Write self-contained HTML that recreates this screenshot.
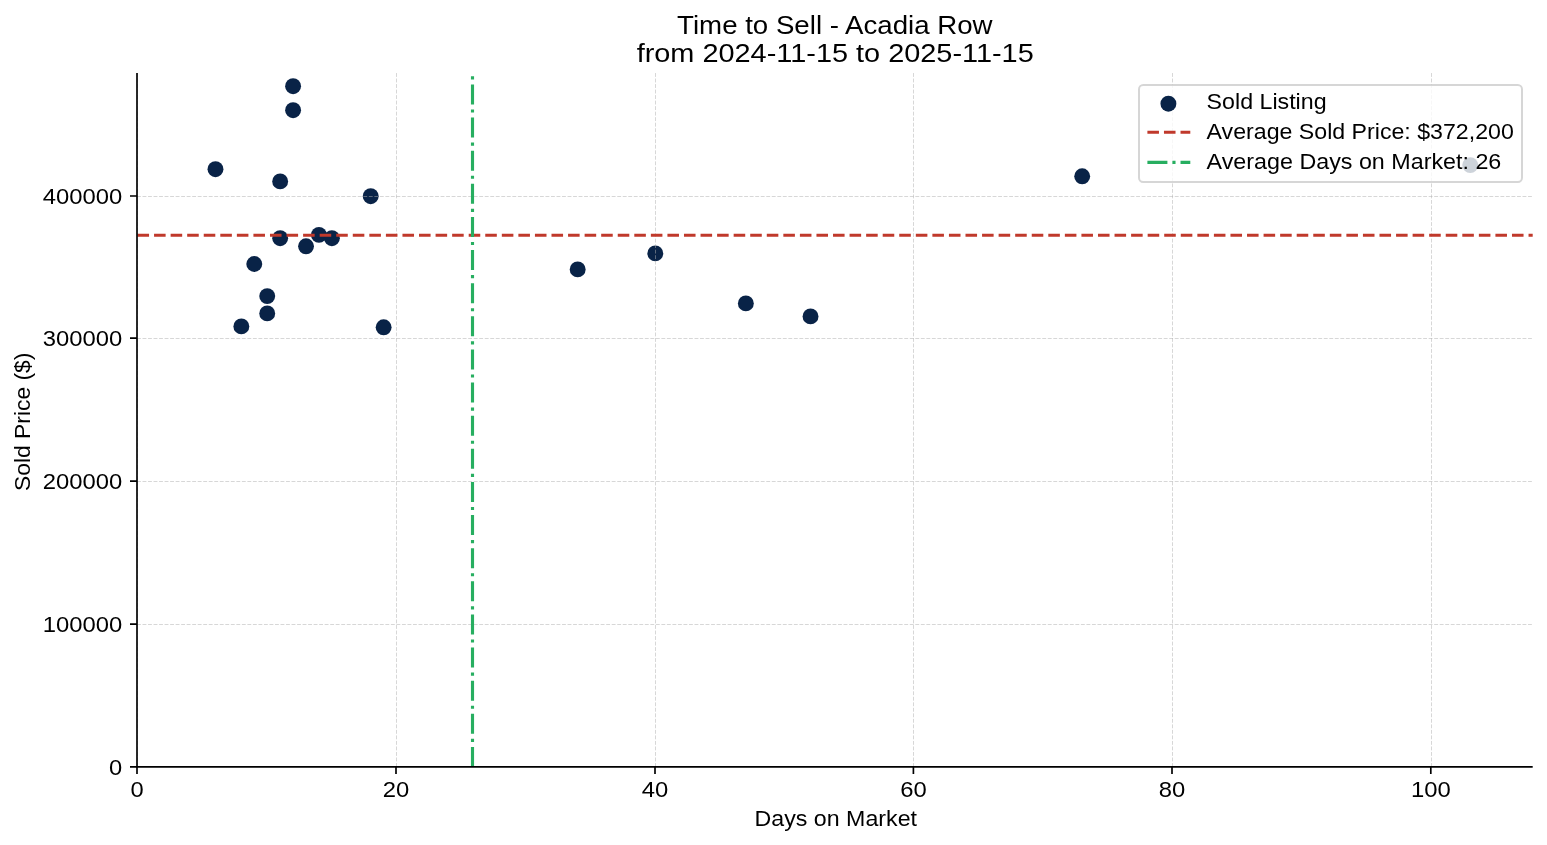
<!DOCTYPE html><html><head><meta charset="utf-8"><title>Time to Sell - Acadia Row</title><style>html,body{margin:0;padding:0;background:#fff;}svg{display:block;will-change:transform;}text{font-family:"Liberation Sans",sans-serif;fill:#000;}</style></head><body>
<svg width="1547" height="845" viewBox="0 0 1547 845">
<rect x="0" y="0" width="1547" height="845" fill="#fff"/>
<g fill="#092347">
<circle cx="215.48" cy="169.20" r="7.95"/>
<circle cx="241.35" cy="326.40" r="7.95"/>
<circle cx="254.28" cy="264.00" r="7.95"/>
<circle cx="267.22" cy="296.10" r="7.95"/>
<circle cx="267.22" cy="313.40" r="7.95"/>
<circle cx="280.16" cy="181.40" r="7.95"/>
<circle cx="280.16" cy="238.20" r="7.95"/>
<circle cx="293.09" cy="86.20" r="7.95"/>
<circle cx="293.09" cy="110.20" r="7.95"/>
<circle cx="306.03" cy="246.30" r="7.95"/>
<circle cx="318.96" cy="234.90" r="7.95"/>
<circle cx="331.90" cy="238.20" r="7.95"/>
<circle cx="370.71" cy="196.20" r="7.95"/>
<circle cx="383.64" cy="327.30" r="7.95"/>
<circle cx="577.68" cy="269.40" r="7.95"/>
<circle cx="655.30" cy="253.40" r="7.95"/>
<circle cx="745.85" cy="303.40" r="7.95"/>
<circle cx="810.53" cy="316.40" r="7.95"/>
<circle cx="1082.19" cy="176.30" r="7.95"/>
<circle cx="1470.27" cy="165.10" r="7.95"/>
</g>
<g stroke="#b0b0b0" stroke-opacity="0.5" stroke-width="1.0" stroke-dasharray="3.85 1.67" fill="none">
<path d="M137.5 766.9V73.0"/>
<path d="M396.5 766.9V73.0"/>
<path d="M655.5 766.9V73.0"/>
<path d="M913.5 766.9V73.0"/>
<path d="M1172.5 766.9V73.0"/>
<path d="M1431.5 766.9V73.0"/>
<path d="M137.0 624.5H1532.7"/>
<path d="M137.0 481.5H1532.7"/>
<path d="M137.0 338.5H1532.7"/>
<path d="M137.0 196.5H1532.7"/>
</g>
<path d="M137.5 235.3H1532.7" stroke="#c0392b" stroke-width="3.125" stroke-dasharray="11.56 5" fill="none"/>
<path d="M472.5 766.9V73.0" stroke="#27ae60" stroke-width="3.125" stroke-dasharray="20 5 3.125 5" fill="none"/>
<path d="M137.0 73.0V767.7M136.2 766.9H1532.7" stroke="#000" stroke-width="1.67" fill="none"/>
<path d="M137.0 766.9V773.9M396.0 766.9V773.9M655.0 766.9V773.9M913.4 766.9V773.9M1172.0 766.9V773.9M1430.8 766.9V773.9M137.0 766.9H130.0M137.0 624.1H130.0M137.0 481.2H130.0M137.0 338.2H130.0M137.0 196.0H130.0" stroke="#000" stroke-width="1.67" fill="none"/>
<text x="122.3" y="774.6" font-size="21.9" text-anchor="end" textLength="13.2" lengthAdjust="spacingAndGlyphs">0</text>
<text x="122.3" y="631.8" font-size="21.9" text-anchor="end" textLength="79.5" lengthAdjust="spacingAndGlyphs">100000</text>
<text x="122.3" y="488.9" font-size="21.9" text-anchor="end" textLength="79.5" lengthAdjust="spacingAndGlyphs">200000</text>
<text x="122.3" y="345.9" font-size="21.9" text-anchor="end" textLength="79.5" lengthAdjust="spacingAndGlyphs">300000</text>
<text x="122.3" y="203.7" font-size="21.9" text-anchor="end" textLength="79.5" lengthAdjust="spacingAndGlyphs">400000</text>
<text x="137.0" y="797.3" font-size="21.9" text-anchor="middle" textLength="13.2" lengthAdjust="spacingAndGlyphs">0</text>
<text x="396.0" y="797.3" font-size="21.9" text-anchor="middle" textLength="26.5" lengthAdjust="spacingAndGlyphs">20</text>
<text x="655.0" y="797.3" font-size="21.9" text-anchor="middle" textLength="26.5" lengthAdjust="spacingAndGlyphs">40</text>
<text x="913.4" y="797.3" font-size="21.9" text-anchor="middle" textLength="26.5" lengthAdjust="spacingAndGlyphs">60</text>
<text x="1172.0" y="797.3" font-size="21.9" text-anchor="middle" textLength="26.5" lengthAdjust="spacingAndGlyphs">80</text>
<text x="1430.8" y="797.3" font-size="21.9" text-anchor="middle" textLength="39.8" lengthAdjust="spacingAndGlyphs">100</text>
<text x="835.8" y="825.6" font-size="21.2" text-anchor="middle" textLength="162.5" lengthAdjust="spacingAndGlyphs">Days on Market</text>
<text transform="translate(29.9 421.8) rotate(-90)" x="0" y="0" font-size="21.2" text-anchor="middle" textLength="138.3" lengthAdjust="spacingAndGlyphs">Sold Price ($)</text>
<text x="834.85" y="34.1" font-size="25.45" text-anchor="middle" textLength="315.5" lengthAdjust="spacingAndGlyphs">Time to Sell - Acadia Row</text>
<text x="835.2" y="62.0" font-size="25.45" text-anchor="middle" textLength="397.1" lengthAdjust="spacingAndGlyphs">from 2024-11-15 to 2025-11-15</text>
<rect x="1139" y="85" width="383" height="97" rx="4.17" ry="4.17" fill="#fff" fill-opacity="0.8" stroke="#cccccc" stroke-opacity="0.8" stroke-width="2"/>
<circle cx="1168.4" cy="103.7" r="7.95" fill="#092347"/>
<path d="M1147.4 132.3H1190.3" stroke="#c0392b" stroke-width="3.125" stroke-dasharray="11.56 5" fill="none"/>
<path d="M1147.4 162.4H1190.3" stroke="#27ae60" stroke-width="3.125" stroke-dasharray="20 5 3.125 5" fill="none"/>
<text x="1206.6" y="108.6" font-size="21.2" textLength="120.0" lengthAdjust="spacingAndGlyphs">Sold Listing</text>
<text x="1206.6" y="138.9" font-size="21.2" textLength="307.2" lengthAdjust="spacingAndGlyphs">Average Sold Price: $372,200</text>
<text x="1206.6" y="169.2" font-size="21.2" textLength="294.7" lengthAdjust="spacingAndGlyphs">Average Days on Market: 26</text>
</svg></body></html>
